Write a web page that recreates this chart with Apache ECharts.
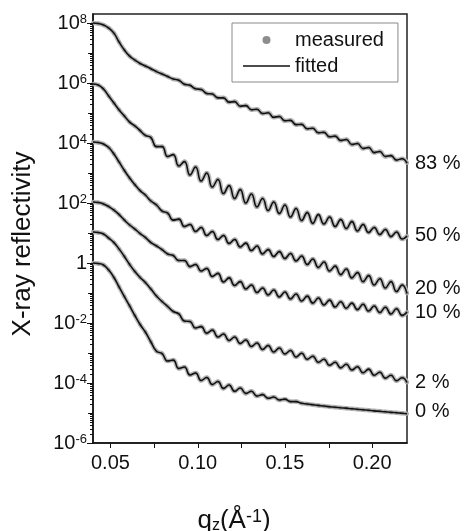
<!DOCTYPE html>
<html><head><meta charset="utf-8">
<script src="https://cdn.jsdelivr.net/npm/echarts@6/dist/echarts.min.js"></script>
<style>html,body{margin:0;padding:0;background:#fff}#c{width:465px;height:531px}</style>
</head><body><div id="c"></div>
<script>
// q_z values (1/Å) at which the curves are read
const qValues = [0.040, 0.043, 0.046, 0.049, 0.052, 0.055, 0.058, 0.061, 0.064, 0.067,
  0.0700, 0.0732, 0.0764, 0.0796, 0.0828, 0.0860, 0.0892, 0.0924, 0.0956, 0.0988,
  0.1020, 0.1052, 0.1084, 0.1116, 0.1148, 0.1180, 0.1212, 0.1244, 0.1276, 0.1308,
  0.1340, 0.1372, 0.1404, 0.1436, 0.1468, 0.1500, 0.1532, 0.1564, 0.1596, 0.1628,
  0.1660, 0.1692, 0.1724, 0.1756, 0.1788, 0.1820, 0.1852, 0.1884, 0.1916, 0.1948,
  0.1980, 0.2012, 0.2044, 0.2076, 0.2108, 0.2140, 0.2172, 0.2200];

// reflectivity of each sample (curves are offset in the figure)
const r83 = [1.0e8, 9.6e7, 8.6e7, 6.8e7, 4.6e7, 2.3e7, 1.26e7, 7.9e6, 5.8e6, 4.5e6,
  3.7e6, 3.0e6, 2.4e6, 2.0e6, 1.65e6, 1.36e6, 1.24e6, 9.1e5, 8.4e5, 6.4e5,
  6.1e5, 4.5e5, 4.3e5, 3.2e5, 3.2e5, 2.3e5, 2.4e5, 1.69e5, 1.77e5, 1.29e5,
  1.33e5, 9.6e4, 1.02e5, 7.2e4, 7.7e4, 5.5e4, 5.7e4, 4.1e4, 4.2e4, 3.0e4,
  3.1e4, 2.2e4, 2.27e4, 1.62e4, 1.70e4, 1.22e4, 1.31e4, 8.9e3, 9.6e3, 6.6e3,
  7.1e3, 4.8e3, 5.2e3, 3.55e3, 3.8e3, 2.7e3, 3.0e3, 2.15e3];
const r50 = [9.3e5, 8.6e5, 6.3e5, 3.7e5, 2.15e5, 1.26e5, 7.9e4, 5.0e4, 3.7e4, 2.6e4,
  1.8e4, 1.52e4, 7.6e3, 7.6e3, 3.55e3, 4.1e3, 1.71e3, 2.4e3, 860, 1580,
  540, 1000, 340, 610, 207, 380, 141, 280, 100, 200,
  74, 141, 56, 108, 45, 86, 34, 66, 26, 48,
  21, 41, 20, 34, 16.5, 28, 14.1, 24, 11.7, 19.2,
  10.4, 15.3, 8.9, 13.1, 7.6, 10.8, 6.3, 7.9];
const r20 = [1.08e4, 1.04e4, 9.3e3, 7.1e3, 4.3e3, 2.3e3, 1.21e3, 680, 410, 260,
  185, 117, 86, 54, 46, 27, 29, 16.5, 19.2, 11.2,
  15.3, 8.3, 11.2, 6.1, 8.3, 4.5, 6.1, 3.4, 4.6, 2.6,
  3.7, 2.0, 2.8, 1.65, 2.4, 1.41, 2.07, 1.17, 1.71, 0.89,
  1.36, 0.71, 1.08, 0.54, 0.79, 0.41, 0.63, 0.32, 0.48, 0.24,
  0.38, 0.185, 0.30, 0.147, 0.24, 0.112, 0.185, 0.096];
const r10 = [108, 104, 93, 76, 58, 41, 27, 18.5, 13.6, 9.6,
  7.1, 4.8, 3.7, 2.8, 2.0, 1.78, 1.21, 1.21, 0.76, 0.89,
  0.54, 0.66, 0.355, 0.45, 0.233, 0.32, 0.178, 0.24, 0.136, 0.185,
  0.104, 0.147, 0.086, 0.126, 0.074, 0.108, 0.063, 0.093, 0.054, 0.079,
  0.046, 0.068, 0.040, 0.058, 0.034, 0.051, 0.031, 0.046, 0.028, 0.042,
  0.025, 0.037, 0.0224, 0.0336, 0.020, 0.030, 0.0179, 0.0233];
const r2 = [10.8, 10.4, 9.3, 6.8, 4.8, 2.9, 1.65, 0.89, 0.52, 0.33,
  0.224, 0.136, 0.079, 0.052, 0.0355, 0.0242, 0.020, 0.0117, 0.0112, 0.0068,
  0.0076, 0.0046, 0.0058, 0.0034, 0.0043, 0.0026, 0.0034, 0.00207, 0.0027, 0.00165,
  0.00215, 0.00131, 0.00178, 0.00108, 0.00147, 0.00093, 0.00121, 0.00074, 0.00098, 0.00062,
  0.00078, 0.00049, 0.00062, 0.00039, 0.00049, 0.00032, 0.00042, 0.00027, 0.00035, 0.00022,
  0.00029, 0.000182, 0.000228, 0.000145, 0.000181, 0.000119, 0.000149, 0.000104];
const r0 = [1.0, 0.96, 0.86, 0.58, 0.33, 0.158, 0.076, 0.037, 0.0178, 0.0089,
  0.0050, 0.00233, 0.00115, 0.00096, 0.00054, 0.00058, 0.000304, 0.00034, 0.000185, 0.000216,
  0.000121, 0.000153, 8.9e-5, 1.12e-4, 6.6e-5, 8.6e-5, 5.3e-5, 6.8e-5, 4.5e-5, 5.3e-5,
  3.66e-5, 4.1e-5, 3.1e-5, 3.4e-5, 2.7e-5, 2.9e-5, 2.4e-5, 2.4e-5, 2.1e-5, 2.0e-5,
  1.89e-5, 1.79e-5, 1.71e-5, 1.62e-5, 1.56e-5, 1.50e-5, 1.45e-5, 1.39e-5, 1.34e-5, 1.28e-5,
  1.23e-5, 1.18e-5, 1.14e-5, 1.10e-5, 1.05e-5, 1.02e-5, 9.8e-6, 9.4e-6];

const curveLabels = ['83 %', '50 %', '20 %', '10 %', '2 %', '0 %'];
const legendNames = ['measured', 'fitted'];
const xLabelValues = [0.05, 0.10, 0.15, 0.20];
const xLabelTexts = ['0.05', '0.10', '0.15', '0.20'];
const xTickValues = [0.05, 0.075, 0.10, 0.125, 0.15, 0.175, 0.20];
const yLabelExponents = [-6, -4, -2, 0, 2, 4, 6, 8];

// ---- styling ----
const FONT = "'Liberation Sans', Arial, sans-serif";
const labelDy = [0, -1, -5, 0, 0, -2];
const X_MIN = 0.04, X_MAX = 0.22, Y_MIN = 1e-6, Y_MAX = 2e8;

const curves = [r83, r50, r20, r10, r2, r0];
const series = [];
curves.forEach((vals, i) => {
  const pts = qValues.map((q, j) => [q, vals[j]]);
  series.push({
    name: legendNames[0], type: 'line', data: pts, smooth: 0.5,
    xAxisIndex: 0, yAxisIndex: 0,
    symbol: 'circle', symbolSize: 4, showSymbol: true,
    itemStyle: { color: '#a3a3a3', borderWidth: 0 },
    lineStyle: { color: '#bdbdbd', width: 4.5 },
    z: 2, silent: true
  });
});
curves.forEach((vals, i) => {
  const pts = qValues.map((q, j) => [q, vals[j]]);
  series.push({
    name: legendNames[1], type: 'line', data: pts, smooth: 0.5,
    xAxisIndex: 0, yAxisIndex: 0, symbol: 'none', color: '#111',
    lineStyle: { color: '#111', width: 1.6 },
    endLabel: { show: true, formatter: curveLabels[i], distance: 8, offset: [0, labelDy[i]],
      fontSize: 20, fontFamily: FONT, color: '#111' },
    z: 3, silent: true
  });
});

// minor / decade ticks of the log axis and x ticks
const yTickData = [];
for (let e = -6; e <= 8; e++) {
  for (let k = 1; k <= 9; k++) {
    const v = k * Math.pow(10, e);
    if (v > Y_MAX * 0.999) continue;
    let len = 3;
    if (k === 1) len = (yLabelExponents.indexOf(e) >= 0) ? 6 : 5;
    yTickData.push([X_MIN, v, len]);
  }
}
const xTickData = xTickValues.map(q => [q, Y_MIN, 5]);

series.push({
  type: 'custom', xAxisIndex: 0, yAxisIndex: 0, data: yTickData, silent: true, z: 5,
  renderItem: (params, api) => {
    const p = api.coord([api.value(0), api.value(1)]);
    const len = api.value(2);
    const y = Math.round(p[1]) + 0.5;
    return { type: 'line', shape: { x1: p[0] - len, y1: y, x2: p[0], y2: y },
      style: { stroke: '#111', lineWidth: 1 } };
  }
});
series.push({
  type: 'custom', xAxisIndex: 0, yAxisIndex: 0, data: xTickData, silent: true, z: 5,
  renderItem: (params, api) => {
    const p = api.coord([api.value(0), api.value(1)]);
    const len = api.value(2);
    const x = Math.round(p[0]) + 0.5;
    return { type: 'line', shape: { x1: x, y1: p[1], x2: x, y2: p[1] + len },
      style: { stroke: '#111', lineWidth: 1 } };
  }
});

const chart = echarts.init(document.getElementById('c'), null, { renderer: 'canvas' });
chart.setOption({
  animation: false,
  backgroundColor: '#fff',
  grid: { left: 93, right: 58, top: 14, bottom: 88, show: true, borderColor: '#222', borderWidth: 1.5 },
  legend: {
    left: 232, top: 23, orient: 'vertical', padding: [7, 14, 6, 11], itemGap: 6,
    itemWidth: 47, itemHeight: 8, borderColor: '#8a8a8a', borderWidth: 1, backgroundColor: '#fff',
    selectedMode: false,
    textStyle: { fontSize: 20, color: '#111', fontFamily: FONT, lineHeight: 20 },
    data: [
      { name: legendNames[0], icon: 'circle', itemStyle: { color: '#8d8d8d' } },
      { name: legendNames[1], icon: 'path://M0,0H47V1.3H0Z', itemStyle: { color: '#111' } }
    ]
  },
  xAxis: [{
    type: 'value', min: X_MIN, max: X_MAX, interval: 0.01,
    axisLine: { show: true, onZero: false, lineStyle: { color: '#111', width: 1.5 } },
    axisTick: { show: false }, splitLine: { show: false },
    axisLabel: {
      margin: 10, fontSize: 20, color: '#111', fontFamily: FONT,
      formatter: v => {
        const k = Math.round(v * 100);
        if (Math.abs(v * 100 - k) > 1e-6) return '';
        const idx = xLabelValues.findIndex(t => Math.round(t * 100) === k);
        return idx >= 0 ? xLabelTexts[idx] : '';
      }
    }
  }],
  yAxis: [{
    type: 'log', min: Y_MIN, max: Y_MAX, show: false, logBase: 10,
    splitLine: { show: false }
  }, {
    type: 'value', min: Math.log10(Y_MIN), max: Math.log10(Y_MAX), interval: 2, position: 'left',
    axisLine: { show: true, onZero: false, lineStyle: { color: '#111', width: 1.5 } },
    axisTick: { show: false }, splitLine: { show: false },
    axisLabel: {
      margin: 6, color: '#111', fontFamily: FONT, fontSize: 20, showMaxLabel: false,
      formatter: v => {
        const e = Math.round(v);
        if (Math.abs(v - e) > 1e-6 || yLabelExponents.indexOf(e) < 0) return '';
        return e === 0 ? '1' : '10{s|' + e + '}';
      },
      rich: { s: { fontSize: 13, verticalAlign: 'top', fontFamily: FONT, color: '#111' } }
    }
  }],
  graphic: [
    { type: 'text', x: 23, y: 244, rotation: Math.PI / 2,
      style: { text: 'X-ray reflectivity', font: '26px ' + FONT, fill: '#111',
        align: 'center', verticalAlign: 'middle', textAlign: 'center', textVerticalAlign: 'middle' } },
    { type: 'text', x: 234, y: 521,
      style: { text: '{a|q}{b|z}{a|(Å}{c|-1}{a|)}', fill: '#111',
        align: 'center', verticalAlign: 'middle', textAlign: 'center', textVerticalAlign: 'middle',
        rich: {
          a: { fontSize: 26, fontFamily: FONT, fill: '#111', color: '#111' },
          b: { fontSize: 16, fontFamily: FONT, verticalAlign: 'bottom', fill: '#111', color: '#111' },
          c: { fontSize: 18, fontFamily: FONT, verticalAlign: 'top', fill: '#111', color: '#111' }
        } } }
  ],
  series: series
});
</script></body></html>
